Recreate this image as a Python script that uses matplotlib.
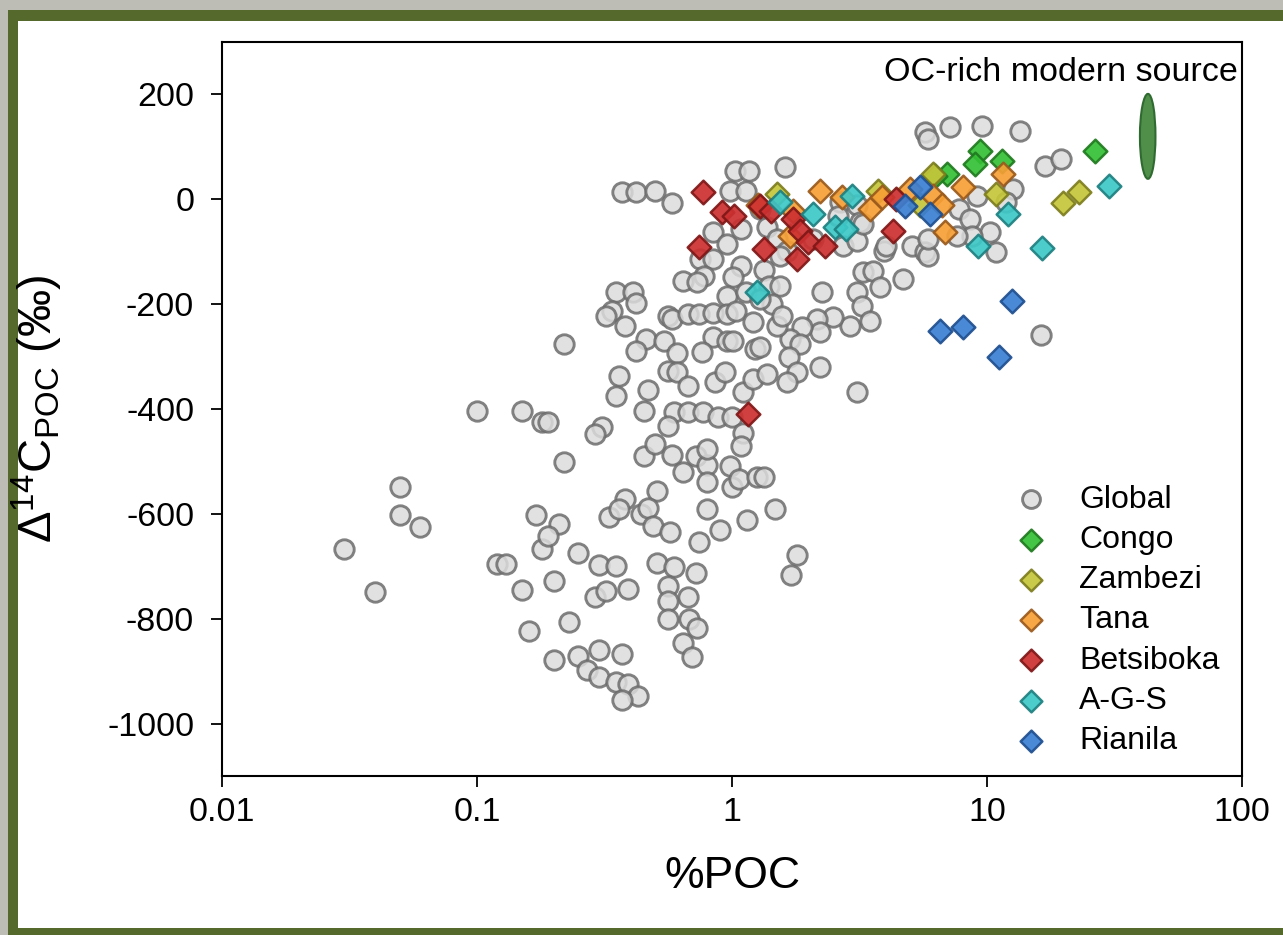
import matplotlib.pyplot as plt
from matplotlib.patches import Ellipse, Rectangle

plt.rcParams['font.family'] = ['Liberation Sans', 'DejaVu Sans']
plt.rcParams['mathtext.fontset'] = 'custom'
plt.rcParams['mathtext.rm'] = 'Liberation Sans'
plt.rcParams['mathtext.it'] = 'Liberation Sans:italic'
plt.rcParams['axes.unicode_minus'] = False

# global compilation (%POC, D14C)
global_poc = [0.10, 0.15, 0.18, 0.05, 0.05, 0.06, 0.03, 0.04, 0.12, 0.13, 0.15, 0.16, 0.17, 0.18,
              0.37, 0.42, 0.50, 0.58, 1.03, 1.17, 0.98, 1.14, 0.84, 0.96, 1.09, 0.75, 0.84, 1.09,
              0.64, 0.78, 0.73, 1.01, 0.96, 1.14, 0.35, 0.41, 0.42, 0.34, 0.32, 0.38, 0.22, 0.56,
              0.58, 0.67, 0.74, 0.84, 0.96, 1.04, 1.21, 0.46, 0.54, 0.42, 0.84, 0.76, 0.96, 1.01,
              1.23, 0.61, 0.36, 0.35, 0.47, 0.56, 0.61, 0.67, 0.86, 0.94, 1.10, 1.21, 0.45, 0.19,
              0.31, 0.29, 0.59, 0.67, 0.77, 0.88, 1.00, 0.56, 1.10,
              0.22, 0.45, 0.50, 0.58, 0.64, 0.72, 0.80, 0.80, 0.98, 0.80, 1.00, 1.07, 1.25, 1.09,
              0.38, 0.51, 0.33, 0.36, 0.44, 0.47, 0.49, 0.57, 0.80, 0.90, 0.74, 1.15, 0.21, 0.19,
              0.25, 0.30, 0.35, 0.20, 0.29, 0.32, 0.39, 0.51, 0.59, 0.72, 0.56, 0.67, 0.56, 0.56,
              0.68, 0.73, 0.64, 0.70, 0.23, 0.20, 0.25, 0.30, 0.37, 0.27, 0.30, 0.35, 0.39, 0.43,
              0.37, 1.33, 1.47, 1.70, 1.80,
              1.61, 5.71, 5.85, 7.16, 9.55, 13.5, 1.29, 2.65, 3.09, 2.60, 3.18, 1.37, 1.50, 1.64,
              1.54, 2.08, 2.73, 3.09, 3.26, 3.96, 4.03, 5.08, 5.71, 5.85, 5.85, 7.80, 8.57, 9.14,
              10.3, 10.9, 8.77, 7.63, 12.6, 1.33, 1.40, 1.54, 2.25, 3.26, 3.56, 3.09, 3.80, 4.69,
              3.23, 3.47, 2.90, 2.49, 2.16, 2.21, 1.89, 1.69, 1.85, 1.50, 1.29, 1.67, 2.21, 1.80,
              1.37, 1.64, 3.09, 1.44, 1.57, 1.29, 16.9, 19.5, 11.9, 16.3]
global_d14c = [-404, -404, -424, -548, -603, -626, -668, -750, -696, -696, -746, -824, -603, -668,
               13, 13, 15, -8, 53, 53, 15, 15, -63, -86, -57, -114, -114, -128,
               -155, -147, -158, -149, -185, -177, -176, -176, -197, -214, -223, -242, -277, -223,
               -229, -219, -219, -216, -219, -214, -235, -267, -271, -290, -263, -292, -271, -271,
               -286, -294, -338, -376, -363, -328, -330, -357, -349, -330, -368, -343, -404, -424,
               -435, -448, -406, -406, -406, -416, -416, -433, -445,
               -502, -490, -467, -487, -521, -490, -506, -477, -509, -540, -549, -534, -530, -471,
               -572, -557, -607, -591, -601, -588, -624, -635, -591, -630, -654, -611, -620, -643,
               -674, -698, -700, -729, -759, -748, -744, -693, -702, -712, -738, -759, -767, -801,
               -801, -817, -847, -874, -807, -878, -872, -859, -868, -897, -912, -920, -925, -948,
               -956, -530, -591, -716, -679,
               61, 128, 114, 137, 139, 130, -19, -6, -10, -32, -44, -52, -76, -99,
               -109, -76, -90, -80, -48, -99, -90, -90, -101, -109, -76, -19, -38, 6,
               -63, -101, -71, -71, 19, -134, -166, -166, -176, -139, -137, -176, -168, -153,
               -204, -233, -242, -225, -229, -254, -244, -267, -277, -242, -282, -301, -319, -330,
               -334, -349, -368, -200, -223, -191, 63, 76, -6, -258]

congo_poc = [9.4, 8.97, 6.97, 11.5, 26.5, 6.25]
congo_d14c = [92, 67, 48, 73, 92, 45]

zambezi_poc = [1.50, 3.74, 6.14, 5.46, 10.9, 19.9, 23.0]
zambezi_d14c = [10, 15, 48, -10, 10, -8, 13]

tana_poc = [1.26, 1.69, 1.73, 2.21, 2.70, 3.47, 3.87, 4.99, 6.14, 6.66, 6.84, 8.05, 11.6]
tana_d14c = [-10, -71, -23, 15, 4, -19, 4, 19, 6, -10, -63, 23, 48]

betsiboka_poc = [0.77, 0.91, 1.02, 0.74, 1.29, 1.42, 1.33, 1.73, 1.85, 1.99, 1.80, 2.32, 4.28, 4.4, 1.16]
betsiboka_d14c = [13, -25, -31, -92, -13, -22, -95, -38, -61, -82, -114, -90, -61, 0, -410]

ags_poc = [1.54, 2.08, 2.54, 2.8, 2.96, 1.25, 9.2, 12.1, 16.4, 30.1]
ags_d14c = [-6, -29, -52, -57, 6, -176, -90, -29, -93, 25]

rianila_poc = [5.46, 4.77, 5.97, 6.55, 8.05, 12.5, 11.2]
rianila_d14c = [23, -13, -29, -252, -244, -195, -301]

# OC-rich modern source end-member
src_poc, src_d14c, src_height = 42.8, 120, 162

fig = plt.figure(figsize=(12.83, 9.35), dpi=100)
fig.patch.set_facecolor('#bdbdb6')
# olive frame with white panel
fig.patches.append(Rectangle((8 / 1283, 0), 1, 925 / 935, transform=fig.transFigure,
                             facecolor='#56692c', edgecolor='none', zorder=-2))
fig.patches.append(Rectangle((18 / 1283, 7 / 935), 1, 907 / 935, transform=fig.transFigure,
                             facecolor='white', edgecolor='none', zorder=-1))

ax = fig.add_axes([0.1730, 0.1701, 0.7950, 0.7850])
ax.set_facecolor('white')

ax.scatter(global_poc, global_d14c, s=195, marker='o', facecolor='#dcdcdc',
           edgecolor='#6c6c6c', linewidth=2.1, alpha=0.85, label='Global', zorder=2)

rivers = [
    ('Congo', congo_poc, congo_d14c, '#35c035', '#1f7a1f'),
    ('Zambezi', zambezi_poc, zambezi_d14c, '#c6c63a', '#7d7d1e'),
    ('Tana', tana_poc, tana_d14c, '#f7a035', '#9a5a1c'),
    ('Betsiboka', betsiboka_poc, betsiboka_d14c, '#cc3030', '#7f1717'),
    ('A-G-S', ags_poc, ags_d14c, '#3ec8c8', '#1f8080'),
    ('Rianila', rianila_poc, rianila_d14c, '#3a7fd2', '#1f4f8f'),
]
for name, xs, ys, fc, ec in rivers:
    ax.scatter(xs, ys, s=145, marker='D', facecolor=fc, edgecolor=ec,
               linewidth=1.8, alpha=0.92, label=name, zorder=3)

ax.add_patch(Ellipse((src_poc, src_d14c), width=6.0, height=src_height,
                     facecolor='#4f8f4a', edgecolor='#2f6a30', linewidth=1.5, zorder=3))
ax.text(96, 242, 'OC-rich modern source', ha='right', va='center', fontsize=24.5)

ax.set_xscale('log')
ax.set_xlim(0.01, 100)
ax.set_ylim(-1100, 300)
ax.set_xticks([0.01, 0.1, 1, 10, 100])
ax.set_xticklabels(['0.01', '0.1', '1', '10', '100'])
ax.minorticks_off()
ax.set_yticks(range(-1000, 201, 200))
ax.tick_params(axis='both', direction='out', length=8, width=1.3, labelsize=24.5)
ax.tick_params(axis='y', pad=12)
ax.tick_params(axis='x', pad=7)
for sp in ax.spines.values():
    sp.set_linewidth(1.5)

ax.set_xlabel('%POC', fontsize=32, labelpad=20)
ax.set_ylabel(r'$\Delta^{14}$C$_{\rm POC}$ (‰)', fontsize=34, labelpad=30)

ax.legend(loc='lower right', bbox_to_anchor=(0.978, 0.027), frameon=False, fontsize=23,
          labelspacing=0.32, handletextpad=0.5, borderpad=0, borderaxespad=0,
          scatterpoints=1, markerscale=0.92)

fig.savefig('out.png', dpi=100)
